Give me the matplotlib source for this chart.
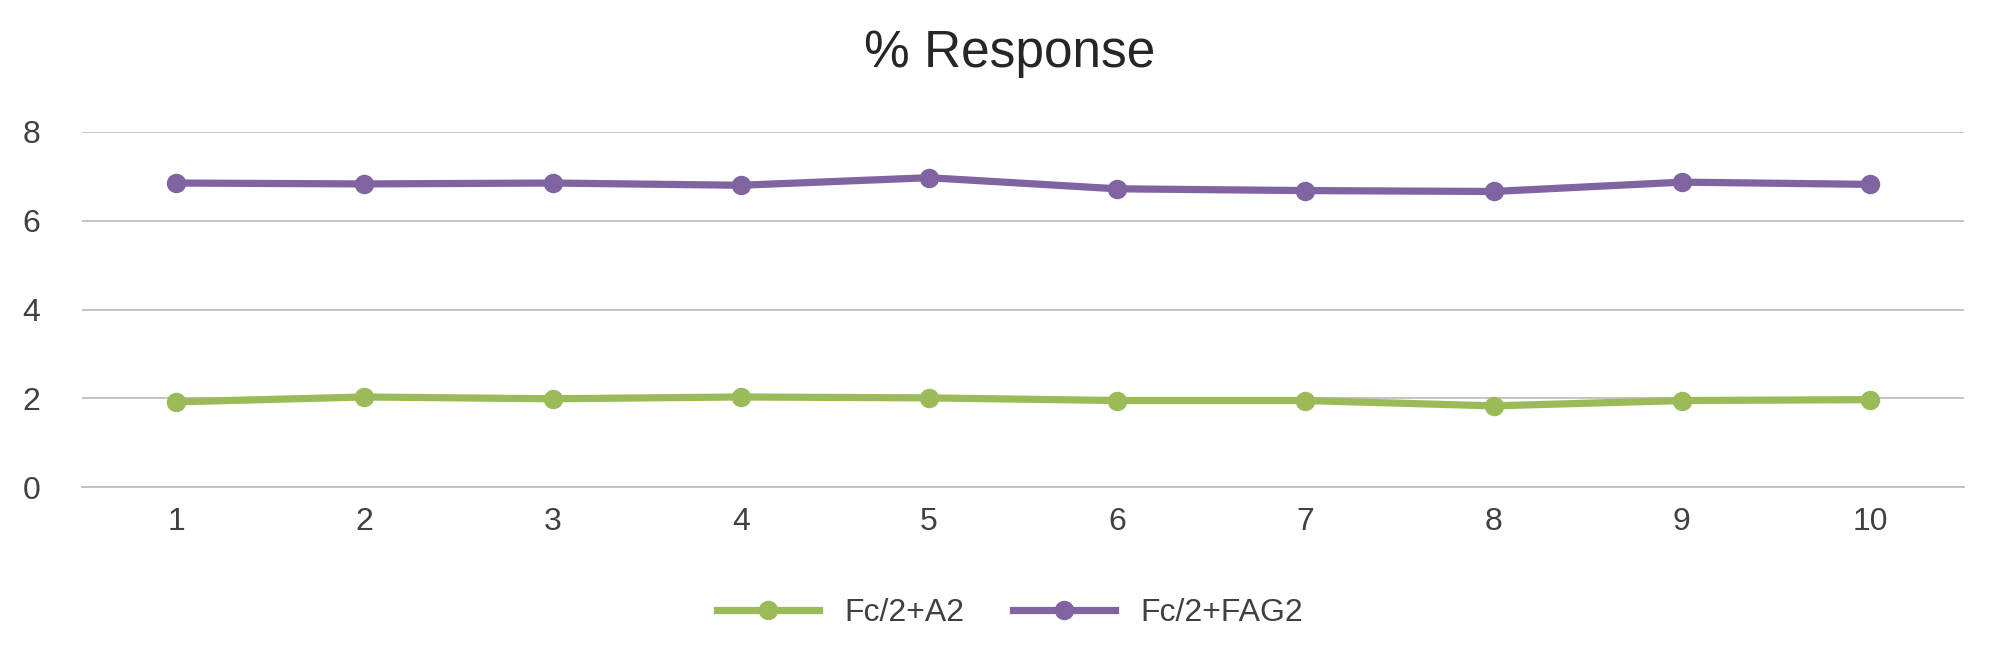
import matplotlib
matplotlib.use("Agg")
import matplotlib.pyplot as plt

categories = [1, 2, 3, 4, 5, 6, 7, 8, 9, 10]
green_vals = [1.92, 2.03, 1.99, 2.03, 2.01, 1.95, 1.95, 1.83, 1.95, 1.97]
purple_vals = [6.85, 6.83, 6.85, 6.80, 6.97, 6.72, 6.68, 6.66, 6.87, 6.82]
yticks = [0, 2, 4, 6, 8]

plt.rcParams["font.family"] = "Liberation Sans"
fig = plt.figure(figsize=(20, 6.7), dpi=100)
ax = fig.add_axes([0.041, 0.273, 0.941, 0.530])
ax.plot(categories, green_vals, color="#9BBB59", lw=5.2, marker="o", ms=13, label="Fc/2+A2")
ax.plot(categories, purple_vals, color="#8064A2", lw=5.2, marker="o", ms=13, label="Fc/2+FAG2")
ax.set_xlim(0.5, 10.5)
ax.set_ylim(0, 8)
ax.set_yticks(yticks)
ax.set_xticks(categories)
ax.grid(axis="y", color="#BFBFBF", lw=1.3)
ax.set_axisbelow(True)
for s in ["top", "right", "left"]:
    ax.spines[s].set_visible(False)
ax.spines["bottom"].set_color("#BFBFBF")
ax.spines["bottom"].set_linewidth(1.3)
ax.tick_params(length=0, labelsize=23, colors="#404040", pad=14)
ax.tick_params(axis="y", pad=30)
fig.text(0.505, 0.92, "% Response", ha="center", va="center", fontsize=37, color="#262626")
fig.legend(loc="center", bbox_to_anchor=(0.505, 0.085), ncol=2, frameon=False,
           fontsize=23, handlelength=3.2, columnspacing=1.5, labelcolor="#404040")
fig.savefig("out.png")
